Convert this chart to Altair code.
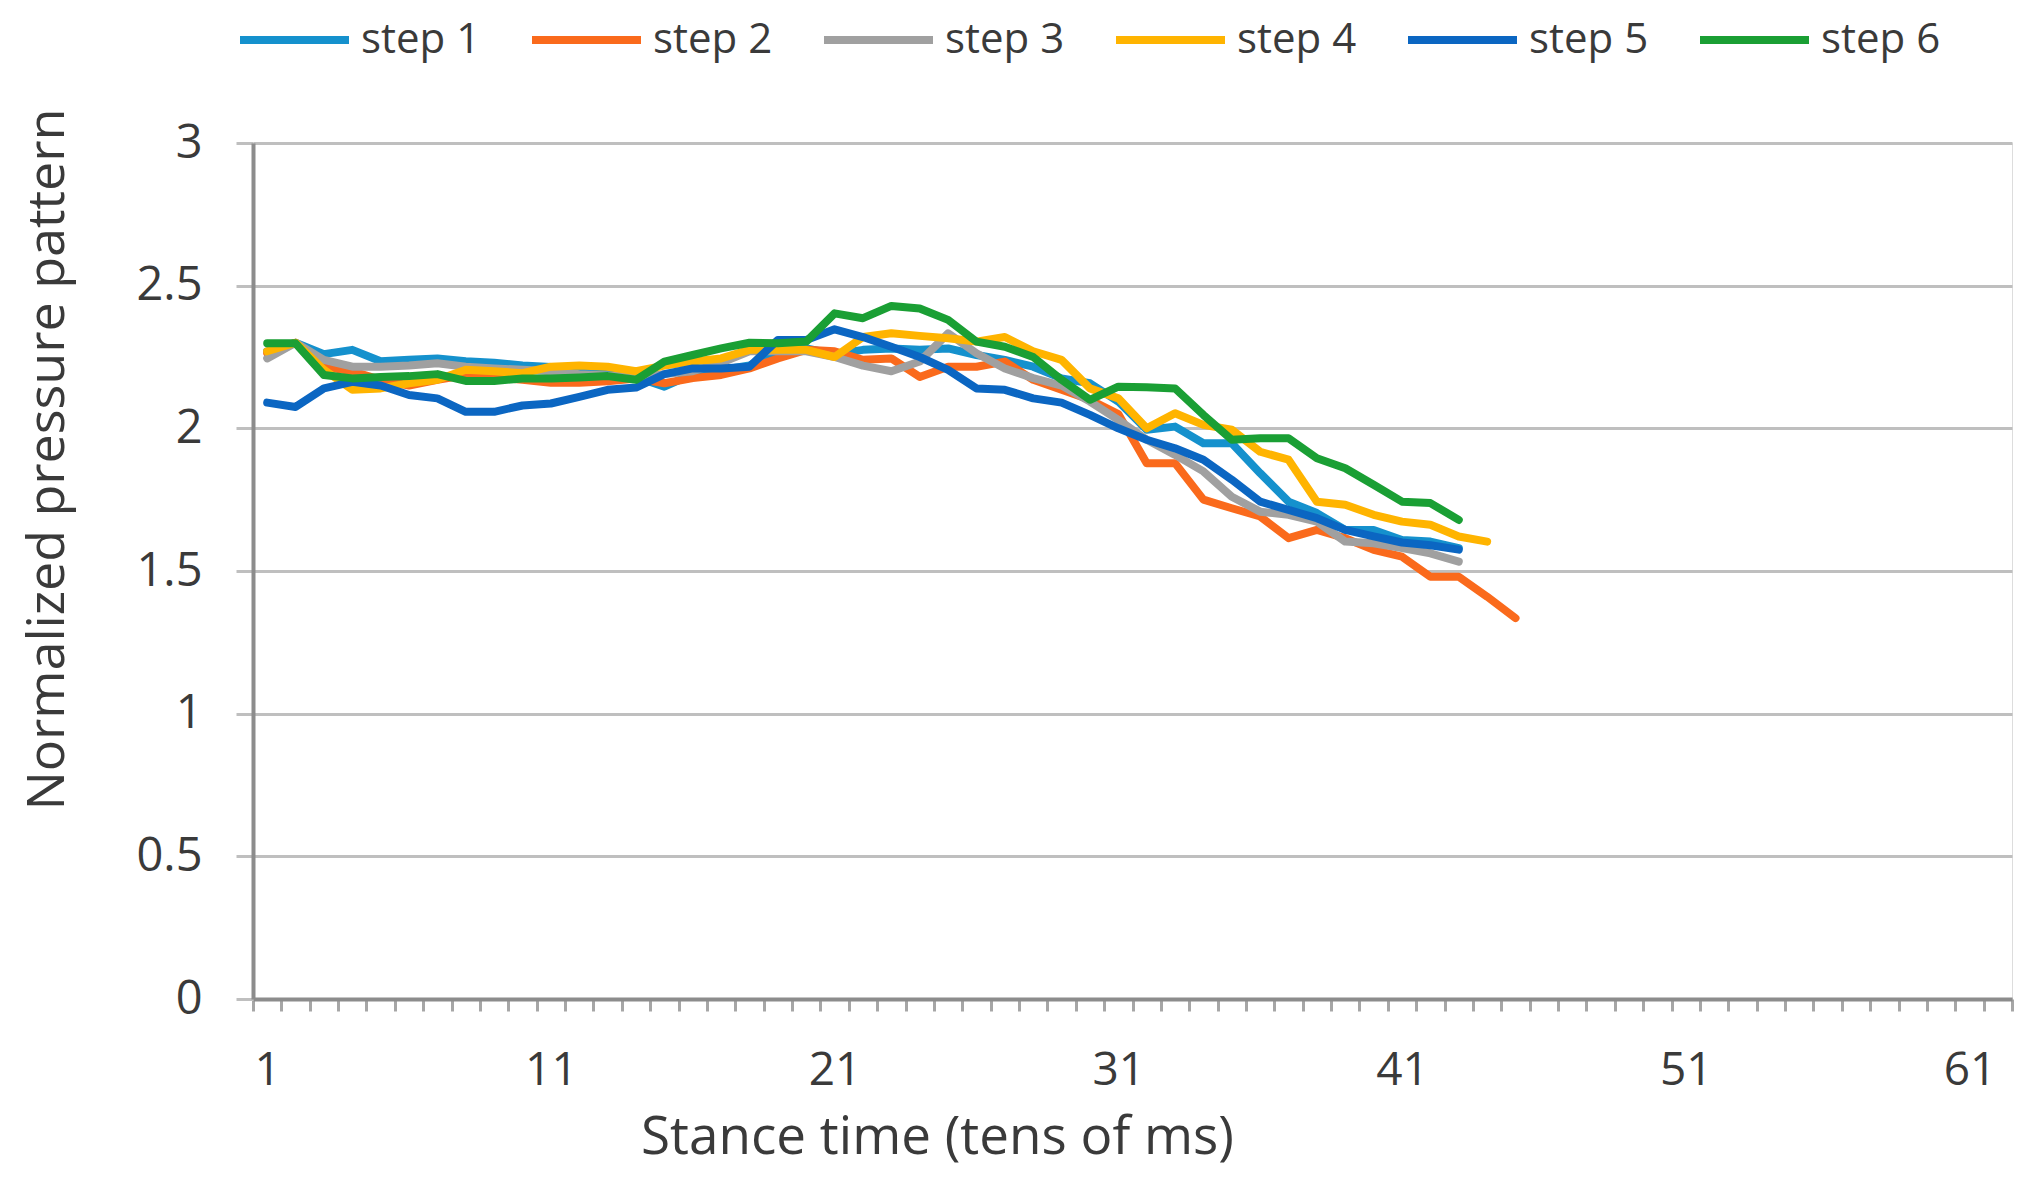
import altair as alt
import pandas as pd

steps = ["step 1", "step 2", "step 3", "step 4", "step 5", "step 6"]
colors = ["#1591CD", "#FA6A1C", "#A0A0A0", "#FFB400", "#0B66C2", "#1A9F34"]

step1 = [2.27, 2.30, 2.26, 2.275, 2.235, 2.24, 2.245, 2.235, 2.23, 2.22,
         2.215, 2.20, 2.19, 2.18, 2.146, 2.19, 2.205, 2.22, 2.27, 2.28,
         2.26, 2.275, 2.28, 2.275, 2.28, 2.257, 2.24, 2.216, 2.175, 2.158,
         2.094, 1.995, 2.006, 1.948, 1.948, 1.843, 1.743, 1.703, 1.644, 1.644,
         1.609, 1.603, 1.58]
step2 = [2.263, 2.30, 2.216, 2.20, 2.17, 2.15, 2.17, 2.187, 2.18, 2.17,
         2.16, 2.16, 2.165, 2.175, 2.158, 2.176, 2.187, 2.21, 2.245, 2.275,
         2.27, 2.24, 2.245, 2.18, 2.216, 2.216, 2.234, 2.17, 2.135, 2.10,
         2.05, 1.878, 1.878, 1.75, 1.72, 1.691, 1.615, 1.644, 1.615, 1.574,
         1.55, 1.48, 1.48, 1.41, 1.335]
step3 = [2.245, 2.30, 2.24, 2.216, 2.216, 2.22, 2.228, 2.216, 2.21, 2.205,
         2.20, 2.19, 2.185, 2.18, 2.19, 2.20, 2.23, 2.27, 2.27, 2.27,
         2.25, 2.22, 2.20, 2.234, 2.333, 2.263, 2.21, 2.176, 2.15, 2.094,
         2.03, 1.96, 1.907, 1.849, 1.76, 1.708, 1.697, 1.673, 1.603, 1.597,
         1.58, 1.562, 1.533]
step4 = [2.27, 2.30, 2.205, 2.135, 2.14, 2.158, 2.17, 2.205, 2.20, 2.193,
         2.216, 2.22, 2.216, 2.20, 2.22, 2.234, 2.245, 2.275, 2.275, 2.275,
         2.25, 2.32, 2.333, 2.324, 2.316, 2.304, 2.32, 2.27, 2.24, 2.14,
         2.105, 2.0, 2.053, 2.012, 1.995, 1.918, 1.89, 1.743, 1.732, 1.697,
         1.673, 1.662, 1.621, 1.603]
step5 = [2.09, 2.075, 2.14, 2.163, 2.15, 2.117, 2.105, 2.058, 2.058, 2.08,
         2.087, 2.11, 2.135, 2.143, 2.19, 2.21, 2.21, 2.216, 2.31, 2.31,
         2.347, 2.32, 2.286, 2.25, 2.205, 2.14, 2.135, 2.105, 2.09, 2.047,
         2.0, 1.96, 1.93, 1.89, 1.82, 1.743, 1.714, 1.685, 1.644, 1.621,
         1.60, 1.59, 1.575]
step6 = [2.298, 2.298, 2.187, 2.175, 2.18, 2.183, 2.19, 2.166, 2.166, 2.175,
         2.175, 2.178, 2.183, 2.17, 2.234, 2.257, 2.28, 2.30, 2.298, 2.304,
         2.403, 2.386, 2.429, 2.42, 2.38, 2.304, 2.286, 2.25, 2.17, 2.10,
         2.146, 2.144, 2.14, 2.047, 1.96, 1.965, 1.965, 1.895, 1.86, 1.802,
         1.743, 1.738, 1.679]

series = [step1, step2, step3, step4, step5, step6]

n_categories = 62
x_label_values = [1, 11, 21, 31, 41, 51, 61]
y_values = [0, 0.5, 1, 1.5, 2, 2.5, 3]

rows = []
for name, vals in zip(steps, series):
    for i, v in enumerate(vals, start=1):
        rows.append({"step": name, "t": i, "value": v})
df = pd.DataFrame(rows)

boundaries = [k + 0.5 for k in range(0, n_categories + 1)]

W = 1759
H = 856
cat_w = W / n_categories

label_list = ",".join(str(v) for v in x_label_values)
label_expr = (
    f"indexof([{label_list}], datum.value + 0.5) >= 0 ? "
    "toString(datum.value + 0.5) : ''"
)

FONT = "Open Sans"
TEXT = "#3a3a3a"

chart = (
    alt.Chart(df)
    .mark_line(strokeWidth=8, strokeJoin="round", strokeCap="round")
    .encode(
        x=alt.X(
            "t:Q",
            scale=alt.Scale(domain=[0.5, n_categories + 0.5], nice=False, zero=False),
            axis=alt.Axis(
                values=boundaries,
                labelExpr=label_expr,
                labelOffset=cat_w / 2,
                labelFlush=False,
                labelOverlap=False,
                labelFont=FONT,
                labelFontSize=46,
                labelColor=TEXT,
                labelPadding=37,
                labelBaseline="top",
                tickSize=12,
                tickWidth=3,
                tickColor="#A6A6A6",
                domainColor="#8C8C8C",
                domainWidth=4,
                grid=False,
                title="Stance time (tens of ms)",
                titleFont=FONT,
                titleFontSize=53,
                titleFontWeight="normal",
                titleColor=TEXT,
                titleX=684,
                titleY=154,
                titleBaseline="alphabetic",
                titleAlign="center",
            ),
        ),
        y=alt.Y(
            "value:Q",
            scale=alt.Scale(domain=[0, 3], nice=False, zero=True),
            axis=alt.Axis(
                values=y_values,
                format="~g",
                labelFont=FONT,
                labelFontSize=47,
                labelColor=TEXT,
                labelPadding=34,
                tickSize=17,
                tickWidth=3,
                tickColor="#BFBFBF",
                grid=True,
                gridColor="#BFBFBF",
                gridWidth=3,
                domainColor="#8C8C8C",
                domainWidth=4,
                title="Normalized pressure pattern",
                titleFont=FONT,
                titleFontSize=52,
                titleFontWeight="normal",
                titleColor=TEXT,
                titleAngle=270,
                titleX=-190,
                titleY=316,
                titleBaseline="alphabetic",
                titleAlign="center",
            ),
        ),
        color=alt.Color(
            "step:N",
            scale=alt.Scale(domain=steps, range=colors),
            legend=alt.Legend(
                orient="none",
                legendX=-17,
                legendY=-148,
                direction="horizontal",
                columns=6,
                title=None,
                symbolType="stroke",
                symbolSize=11881,
                symbolStrokeWidth=8,
                labelFont=FONT,
                labelFontSize=42,
                labelColor=TEXT,
                labelOffset=8,
                labelLimit=400,
                columnPadding=47,
                clipHeight=90,
                padding=0,
            ),
        ),
        order="t:Q",
    )
    .properties(
        width=W,
        height=H,
        autosize=alt.AutoSizeParams(type="none"),
        padding={"left": 245, "top": 135, "right": 10, "bottom": 173},
    )
    .configure_view(stroke=None)
    .configure(background="white")
)

chart.save("out.html", embed_options={"renderer": "svg", "actions": False})
